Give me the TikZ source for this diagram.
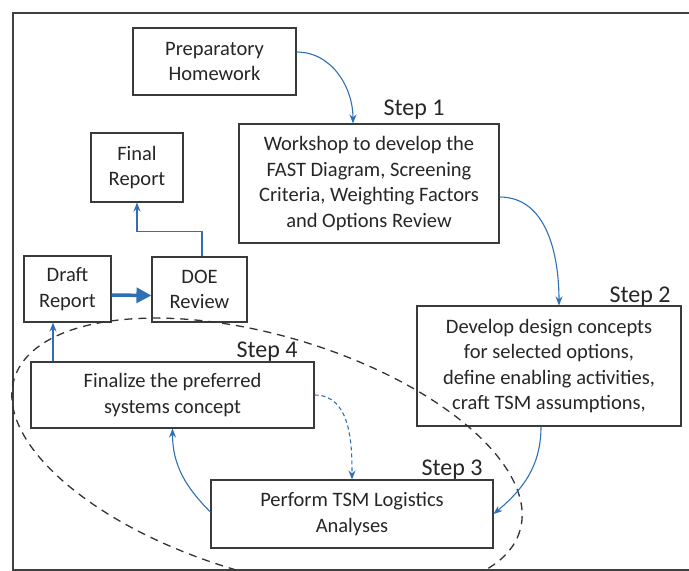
\documentclass[tikz,border=0pt]{standalone}
\usepackage{fontspec}
\setmainfont{Carlito}
\usetikzlibrary{arrows.meta,positioning}
\definecolor{flowblue}{HTML}{2F6FB5}
\definecolor{boxgray}{HTML}{3A3A3A}

\begin{document}
\begin{tikzpicture}[
    x=1pt, y=-1pt,
    >=Stealth,
    font=\fontsize{20.5}{25.5}\selectfont,
    block/.style={
      draw=boxgray,
      line width=1.1pt,
      rectangle,
      align=center,
      text=black!85,
      inner sep=0pt
    },
    steplabel/.style={
      font=\fontsize{24}{28}\selectfont,
      text=black!85,
      inner sep=0pt
    },
    flow/.style={draw=flowblue, line width=1.1pt, -{Stealth[length=9pt,width=7pt]}},
    dashflow/.style={flow, dash pattern=on 4pt off 3pt},
    bigflow/.style={draw=flowblue, line width=3.5pt, -{Triangle[length=15pt,width=15pt]}},
    ring/.style={draw=black!80, line width=1.3pt, dash pattern=on 8pt off 6pt},
    frame/.style={draw=black!75, line width=1.4pt}
  ]
  \useasboundingbox (0,0) rectangle (689,571);
  \draw[frame] (689,13) -- (13,13) -- (13,570) -- (689,570);

  \node[block, minimum width=163, minimum height=67] (prep) at (214.5,61.5) {Preparatory\\Homework};
  \node[block, minimum width=260, minimum height=119] (workshop) at (369,183.5)
    {Workshop to develop the\\FAST Diagram, Screening\\Criteria, Weighting Factors\\and Options Review};
  \node[block, minimum width=92, minimum height=69] (final) at (137,167.5) {Final\\Report};
  \node[block, minimum width=87, minimum height=66] (draft) at (67.5,289) {Draft\\Report};
  \node[block, minimum width=95, minimum height=65] (doe) at (199.5,289.5) {DOE\\Review};
  \node[block, minimum width=283, minimum height=66] (finalize) at (172.5,395)
    {Finalize the preferred\\systems concept};
  \node[block, minimum width=264, minimum height=120] (develop) at (549,366)
    {Develop design concepts\\for selected options,\\define enabling activities,\\craft TSM assumptions,};
  \node[block, minimum width=282, minimum height=68] (perform) at (352,514)
    {Perform TSM Logistics\\Analyses};

  \node[steplabel] (step1) at (414,110) {Step 1};
  \node[steplabel] (step2) at (640,297) {Step 2};
  \node[steplabel] (step3) at (452,470) {Step 3};
  \node[steplabel] (step4) at (267,352) {Step 4};

  \draw[ring, rotate around={-16.7:(267,455)}] (267,455) ellipse [x radius=264, y radius=119];

  \draw[flow] ([yshift=9.5pt]prep.east) to[out=0,in=90] ([xshift=-16pt]workshop.north);
  \draw[flow] ([yshift=-13.5pt]workshop.east) to[out=0,in=90] ([xshift=10pt]develop.north);
  \draw[flow] ([xshift=-8pt]develop.south) to[out=-90,in=40] (perform.east);
  \draw[flow] ([yshift=2pt]perform.west) to[out=135,in=-90] (finalize.south);
  \draw[dashflow] (finalize.east) to[out=0,in=90] (perform.north);
  \draw[flow] ([xshift=-14.5pt]draft.south |- finalize.north) -- ([xshift=-14.5pt]draft.south);
  \draw[bigflow] ([yshift=-6pt]draft.east) -- ([yshift=-6pt]doe.west);
  \draw[flow] ([xshift=2.5pt]doe.north) -- ++(0,-25) -| (final.south);
\end{tikzpicture}
\end{document}
